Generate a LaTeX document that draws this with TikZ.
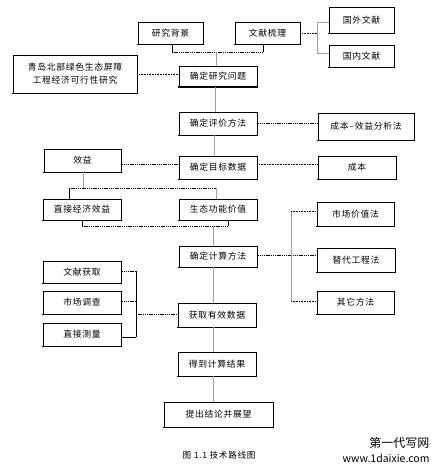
\documentclass[tikz,border=0pt]{standalone}
\usepackage{fontspec}
\newfontfamily\cjk[LetterSpace=8]{Noto Sans CJK SC}
\newfontfamily\cjkw{Noto Sans CJK SC}
\begin{document}
\begin{tikzpicture}[x=1pt,y=-1pt,
  bx/.style={draw, line width=0.7pt, inner sep=0pt, align=center,
    font=\cjk\fontsize{8.8}{13}\selectfont,
    append after command={\pgfextra{\draw[line width=1.3pt]
      ([xshift=-0.3pt]\tikzlastnode.south west) -- ([xshift=0.6pt]\tikzlastnode.south east);
      \draw[line width=1.1pt] (\tikzlastnode.south east) -- (\tikzlastnode.north east);}}},
  gl/.style={draw=gray!75, line width=0.8pt},
  dl/.style={draw=black, line width=0.9pt, dash pattern=on 1.4pt off 0.8pt},
  tl/.style={draw=black, line width=0.7pt, dash pattern=on 1pt off 0.6pt}]
\useasboundingbox (0,0) rectangle (443,472);

% boxes
\node[bx, minimum width=65pt, minimum height=22pt] (bg) at (170.5,33) {研究背景};
\node[bx, minimum width=65pt, minimum height=22pt] (wx) at (267.5,33) {文献梳理};
\node[bx, minimum width=65pt, minimum height=26pt] (gw) at (361.5,20) {国外文献};
\node[bx, minimum width=65pt, minimum height=22pt] (gn) at (361.5,56) {国内文献};
\node[bx, minimum width=124pt, minimum height=38pt] (qd) at (75,74) {青岛北部绿色生态屏障\\工程经济可行性研究};
\node[bx, minimum width=78pt, minimum height=20pt] (q1) at (218,76.5) {确定研究问题};
\node[bx, minimum width=78pt, minimum height=23pt] (q2) at (218,123.5) {确定评价方法};
\node[bx, minimum width=96pt, minimum height=27pt] (cb) at (366,126.5) {成本–效益分析法};
\node[bx, minimum width=77pt, minimum height=23pt] (xy) at (82.5,160.5) {效益};
\node[bx, minimum width=78pt, minimum height=23pt] (q3) at (218,167.5) {确定目标数据};
\node[bx, minimum width=78pt, minimum height=23pt] (cbn) at (357,167.5) {成本};
\node[bx, minimum width=78pt, minimum height=21pt] (zj) at (82,209.5) {直接经济效益};
\node[bx, minimum width=78pt, minimum height=21pt] (st) at (218,209.5) {生态功能价值};
\node[bx, minimum width=78pt, minimum height=21pt] (q4) at (218,256.5) {确定计算方法};
\node[bx, minimum width=77pt, minimum height=24pt] (sc) at (355.5,214) {市场价值法};
\node[bx, minimum width=78pt, minimum height=24pt] (td) at (356,260) {替代工程法};
\node[bx, minimum width=77pt, minimum height=23pt] (qt) at (355.5,302.5) {其它方法};
\node[bx, minimum width=78pt, minimum height=22pt] (wh) at (82,272) {文献获取};
\node[bx, minimum width=78pt, minimum height=23pt] (sd) at (82,302.5) {市场调查};
\node[bx, minimum width=78pt, minimum height=23pt] (cl) at (82,334.5) {直接测量};
\node[bx, minimum width=78pt, minimum height=24pt] (q5) at (217,315) {获取有效数据};
\node[bx, minimum width=78pt, minimum height=24pt] (q6) at (217,364) {得到计算结果};
\node[bx, minimum width=109pt, minimum height=25pt] (q7) at (218.5,414.5) {提出结论并展望};

% junction coordinates
\coordinate (j1a) at (172,52);
\coordinate (j1b) at (263,52);
\coordinate (j1c) at (216,52);
\coordinate (b1t) at (317,22);
\coordinate (b1b) at (317,53);
\coordinate (j2a) at (83,188);
\coordinate (j2l) at (69,188);
\coordinate (j2r) at (216,188);
\coordinate (j3l) at (82,226);
\coordinate (j3r) at (228,226);
\coordinate (j3c) at (213,226);
\coordinate (b2t) at (291,211);
\coordinate (b2b) at (291,301);
\coordinate (b3t) at (136,271);
\coordinate (b3m) at (136,301);
\coordinate (b3b) at (136,337);
\coordinate (b3c) at (136,314);

% top: background + literature
\draw[line width=0.7pt] (bg.south -| j1a) -- (j1a);
\draw[line width=0.7pt] (wx.south -| j1b) -- (j1b);
\draw[dl] (j1a) -- (j1b);
\draw[gl] (j1c) -- (q1.north -| j1c);
\draw[tl] (wx.east) -- (wx.east -| b1t);
\draw[gl] (b1t) -- (b1b);
\draw[gl] (b1t) -- (b1t -| gw.west);
\draw[gl] (b1b) -- (b1b -| gn.west);

% main chain
\draw[tl] (qd.east) -- (qd.east -| q1.west);
\draw[gl] ([xshift=-3pt]q1.south) -- ([xshift=-3pt]q2.north);
\draw[dl] (q2.east) -- (q2.east -| cb.west);
\draw[gl] ([xshift=-4pt]q2.south) -- ([xshift=-4pt]q3.north);
\draw[dl] (xy.east |- 0,164) -- (q3.west |- 0,164);
\draw[tl] (q3.east |- 0,164) -- (cbn.west |- 0,164);

% benefits split
\draw[gl] (xy.south -| j2a) -- (j2a);
\draw[dl] (j2l) -- (j2r);
\draw[line width=0.6pt] (j2l) -- (zj.north -| j2l);
\draw[gl] (j2r) -- (st.north -| j2r);
\draw[line width=0.6pt] (zj.south -| j3l) -- (j3l);
\draw[line width=0.6pt] (st.south -| j3r) -- (j3r);
\draw[dl] (j3l) -- (j3r);
\draw[gl] (j3c) -- (q4.north -| j3c);

% calculation methods
\draw[dl] (q4.east |- 0,255) -- (td.west |- 0,255);
\draw[gl] (b2t) -- (b2b);
\draw[tl] (b2t) -- (b2t -| sc.west);
\draw[tl] (b2b) -- (b2b -| qt.west);
\draw[gl] (q4.south -| j3c) -- (q5.north -| j3c);

% data sources
\draw[line width=0.6pt] (b3t) -- (b3b);
\draw[dl] (b3t -| wh.east) -- (b3t);
\draw[dl] (b3m -| sd.east) -- (b3m);
\draw[line width=0.6pt] (b3b -| cl.east) -- (b3b);
\draw[dl] (b3c) -- (b3c -| q5.west);

\draw[gl] (q5.south -| j3c) -- (q6.north -| j3c);
\draw[gl] (q6.south -| j3c) -- (q7.north -| j3c);

% caption and watermark
\node[font=\cjk\fontsize{8.6}{10}\selectfont] (cap) at (219,455) {图 1.1 技术路线图};
\node[font=\cjkw\fontsize{12}{12}\selectfont, anchor=east] (wm1) at (433,443) {第一代写网};
\node[font=\cjkw\fontsize{10.5}{12}\selectfont, anchor=east] (wm2) at (433,458) {www.1daixie.com};
\end{tikzpicture}
\end{document}
